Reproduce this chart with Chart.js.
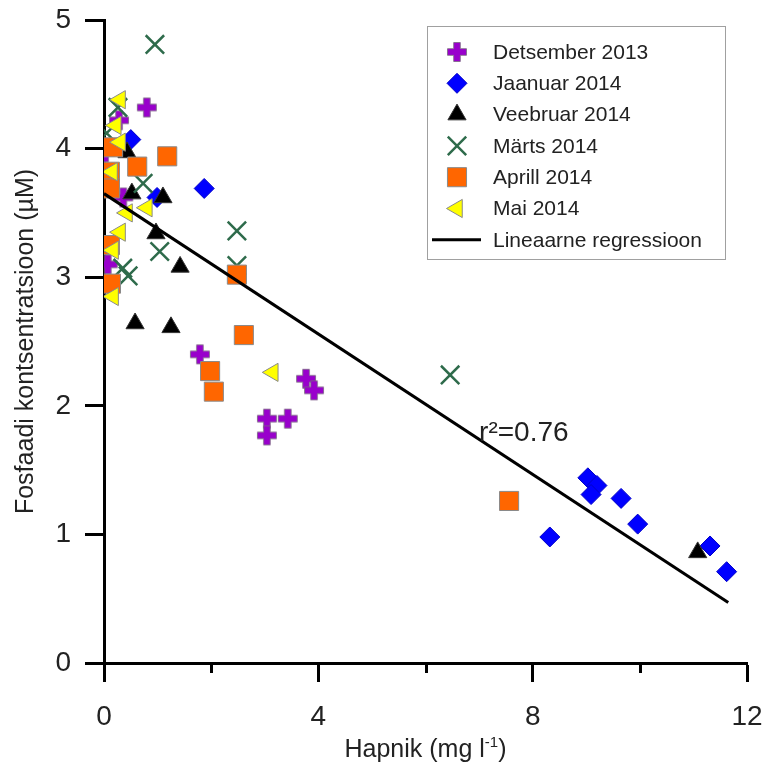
<!DOCTYPE html>
<html>
<head>
<meta charset="utf-8">
<script src="https://cdn.jsdelivr.net/npm/chart.js@4.4.1/dist/chart.umd.min.js"></script>
<style>
  html, body { margin: 0; padding: 0; background: #fff; }
  #wrap { width: 766px; height: 771px; }
</style>
</head>
<body>
<div id="wrap"><canvas id="chart" width="766" height="771"></canvas></div>
<script>
// series labels
const seriesLabels = ['Detsember 2013', 'Jaanuar 2014', 'Veebruar 2014', 'Märts 2014', 'Aprill 2014', 'Mai 2014'];
const regLabel = 'Lineaarne regressioon';

// Hapnik (x) / Fosfaadi (y) per month
const detsX = [0.80, 1.79, 3.77, 3.92, 3.04, 3.43, 3.04, 0.07, 0.28, 0.36, 0.02];
const detsY = [4.32, 2.40, 2.21, 2.12, 1.90, 1.90, 1.77, 3.10, 4.22, 3.62, 3.97];
const jaanX = [0.50, 1.87, 0.99, 9.03, 9.20, 9.09, 9.65, 9.96, 8.32, 11.31, 11.62];
const jaanY = [4.07, 3.69, 3.62, 1.44, 1.38, 1.31, 1.28, 1.08, 0.98, 0.91, 0.71];
const veebX = [0.43, 0.52, 1.10, 0.97, 1.42, 0.58, 1.25, 11.08];
const veebY = [3.97, 3.65, 3.62, 3.34, 3.08, 2.64, 2.61, 0.86];
const martsX = [0.95, 0.26, 0.73, 2.48, 1.04, 0.35, 0.45, 2.48, 6.46, 0.05];
const martsY = [4.81, 4.32, 3.73, 3.36, 3.20, 3.07, 3.01, 3.09, 2.24, 4.12];
const aprillX = [0.17, 1.18, 0.62, 0.11, 0.11, 0.11, 0.13, 2.48, 2.61, 1.98, 2.05, 7.56];
const aprillY = [4.01, 3.94, 3.86, 3.82, 3.69, 3.25, 2.95, 3.02, 2.55, 2.27, 2.11, 1.26];
const maiX = [0.30, 0.22, 0.30, 0.15, 0.80, 0.43, 0.30, 0.17, 0.17, 3.15];
const maiY = [4.38, 4.18, 4.05, 3.82, 3.54, 3.50, 3.35, 3.21, 2.85, 2.26];

// regression line end points
const regX = [0, 11.65];
const regY = [3.65, 0.47];
const r2Text = 'r²=0.76';
const r2Pos = [7.0, 1.73];

// ticks
const xMajorTicks = [0, 4, 8, 12];
const xMinorTicks = [2, 6, 10];
const yTicks = [0, 1, 2, 3, 4, 5];

const FONT = 'Liberation Sans, Arial, sans-serif';
const pts = (xs, ys) => xs.map((x, i) => ({ x, y: ys[i] }));

// fat purple plus with grey edge
function plusMarker() {
    const c = document.createElement('canvas');
    c.width = 22; c.height = 22;
    const g = c.getContext('2d');
    const a = 11, h = 9.5, t = 3.3;
    g.beginPath();
    g.moveTo(a - t, a - h); g.lineTo(a + t, a - h); g.lineTo(a + t, a - t);
    g.lineTo(a + h, a - t); g.lineTo(a + h, a + t); g.lineTo(a + t, a + t);
    g.lineTo(a + t, a + h); g.lineTo(a - t, a + h); g.lineTo(a - t, a + t);
    g.lineTo(a - h, a + t); g.lineTo(a - h, a - t); g.lineTo(a - t, a - t);
    g.closePath();
    g.fillStyle = '#9900CC';
    g.fill();
    g.strokeStyle = '#7a6a80';
    g.lineWidth = 0.8;
    g.stroke();
    return c;
}
const plus = plusMarker();

const overlay = {
    id: 'overlay',
    afterDraw(chart) {
        const { ctx, chartArea, scales } = chart;
        const xs = scales.x, ys = scales.y;
        ctx.save();

        // minor x ticks
        ctx.strokeStyle = '#000';
        ctx.lineWidth = 3;
        xMinorTicks.forEach(v => {
            const px = Math.round(xs.getPixelForValue(v)) + 0.5;
            ctx.beginPath();
            ctx.moveTo(px, chartArea.bottom);
            ctx.lineTo(px, chartArea.bottom + 10);
            ctx.stroke();
        });

        // r2 text
        ctx.fillStyle = '#222';
        ctx.font = '28px ' + FONT;
        ctx.textAlign = 'left';
        ctx.textBaseline = 'alphabetic';
        ctx.fillText(r2Text, xs.getPixelForValue(r2Pos[0]), ys.getPixelForValue(r2Pos[1]));

        // x title with superscript
        const cx = (chartArea.left + chartArea.right) / 2;
        const base = 757;
        ctx.font = '25px ' + FONT;
        const p1 = 'Hapnik (mg l', sup = '-1', p2 = ')';
        const w1 = ctx.measureText(p1).width, w3 = ctx.measureText(p2).width;
        ctx.font = '15px ' + FONT;
        const w2 = ctx.measureText(sup).width;
        let x0 = cx - (w1 + w2 + w3) / 2;
        ctx.font = '25px ' + FONT;
        ctx.fillText(p1, x0, base);
        ctx.font = '15px ' + FONT;
        ctx.fillText(sup, x0 + w1, base - 10);
        ctx.font = '25px ' + FONT;
        ctx.fillText(p2, x0 + w1 + w2, base);

        // y title
        ctx.save();
        ctx.translate(33, (chartArea.top + chartArea.bottom) / 2);
        ctx.rotate(-Math.PI / 2);
        ctx.textAlign = 'center';
        ctx.font = '25px ' + FONT;
        ctx.fillText('Fosfaadi kontsentratsioon (µM)', 0, 0);
        ctx.restore();

        // legend box
        const L = 427, T = 26, R = 725, B = 259;
        ctx.fillStyle = '#fff';
        ctx.fillRect(L, T, R - L, B - T);
        ctx.strokeStyle = '#a0a0a0';
        ctx.lineWidth = 1;
        ctx.strokeRect(L + 0.5, T + 0.5, R - L, B - T);

        ctx.textBaseline = 'middle';
        ctx.font = '21px ' + FONT;
        chart.data.datasets.forEach((ds, i) => {
            const y = 52 + i * 31.3;
            if (ds.type === 'line') {
                ctx.strokeStyle = '#000';
                ctx.lineWidth = 3;
                ctx.beginPath();
                ctx.moveTo(432, y);
                ctx.lineTo(481, y);
                ctx.stroke();
            } else if (Chart.helpers && Chart.helpers.drawPoint) {
                ctx.fillStyle = ds.backgroundColor;
                ctx.strokeStyle = ds.borderColor;
                ctx.lineWidth = ds.borderWidth;
                Chart.helpers.drawPoint(ctx, {
                    pointStyle: ds.pointStyle,
                    radius: ds.pointRadius,
                    rotation: ds.rotation || 0,
                    borderWidth: ds.borderWidth
                }, 457, y);
            }
            ctx.fillStyle = '#222';
            ctx.fillText(ds.label, 493, y + 1);
        });

        ctx.restore();
    }
};

new Chart(document.getElementById('chart'), {
    type: 'scatter',
    data: {
        datasets: [
            { label: seriesLabels[0], data: pts(detsX, detsY), pointStyle: plus, pointRadius: 11,
              backgroundColor: '#9900CC', borderColor: '#9900CC', borderWidth: 0, order: 6 },
            { label: seriesLabels[1], data: pts(jaanX, jaanY), pointStyle: 'rectRot', pointRadius: 10,
              backgroundColor: '#0000FF', borderColor: '#0000C8', borderWidth: 1, order: 5 },
            { label: seriesLabels[2], data: pts(veebX, veebY), pointStyle: 'triangle', pointRadius: 10.5,
              backgroundColor: '#000000', borderColor: '#333333', borderWidth: 1, order: 4 },
            { label: seriesLabels[3], data: pts(martsX, martsY), pointStyle: 'crossRot', pointRadius: 13,
              backgroundColor: '#2E6B4B', borderColor: '#2E6B4B', borderWidth: 2.5, order: 3 },
            { label: seriesLabels[4], data: pts(aprillX, aprillY), pointStyle: 'rect', pointRadius: 13.5,
              backgroundColor: '#FF6600', borderColor: '#8a8a8a', borderWidth: 1, order: 2 },
            { label: seriesLabels[5], data: pts(maiX, maiY), pointStyle: 'triangle', pointRadius: 10.5, rotation: -90,
              backgroundColor: '#FFFF00', borderColor: '#8a8a8a', borderWidth: 1, order: 1 },
            { type: 'line', label: regLabel, data: pts(regX, regY), borderColor: '#000', borderWidth: 3,
              pointRadius: 0, fill: false, order: 0 }
        ]
    },
    options: {
        responsive: false,
        animation: false,
        layout: { padding: { top: 20, right: 19, left: 0, bottom: 0 } },
        plugins: { legend: { display: false }, tooltip: { enabled: false } },
        elements: { point: { hoverRadius: 0 } },
        scales: {
            x: {
                type: 'linear', min: 0, max: 12,
                afterBuildTicks: s => { s.ticks = xMajorTicks.map(v => ({ value: v })); },
                afterFit: s => { s.height = 108; s.paddingLeft = 0; s.paddingRight = 0; },
                ticks: { color: '#222', font: { size: 28, family: FONT }, padding: 18, maxRotation: 0, autoSkip: false },
                grid: { drawOnChartArea: false, tickLength: 19, tickWidth: 3, tickColor: '#000' },
                border: { color: '#000', width: 3 }
            },
            y: {
                type: 'linear', min: 0, max: 5,
                afterBuildTicks: s => { s.ticks = yTicks.map(v => ({ value: v })); },
                afterFit: s => { s.width = 104; s.paddingTop = 0; s.paddingBottom = 0; },
                ticks: { color: '#222', font: { size: 28, family: FONT }, padding: 14, autoSkip: false },
                grid: { drawOnChartArea: false, tickLength: 19, tickWidth: 3, tickColor: '#000' },
                border: { color: '#000', width: 3 }
            }
        }
    },
    plugins: [overlay]
});
</script>
</body>
</html>
